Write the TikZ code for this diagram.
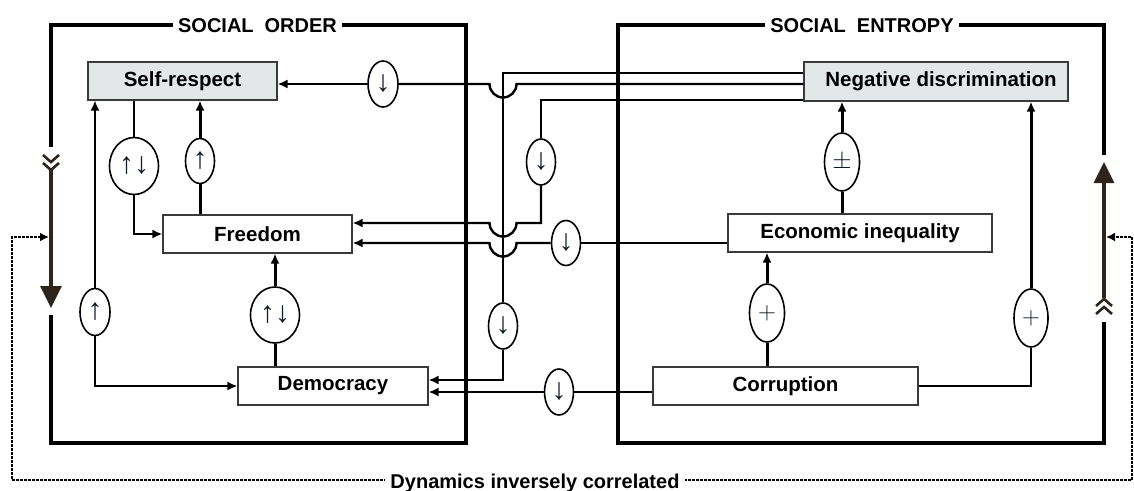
\documentclass[tikz,border=0pt]{standalone}
\usepackage{fontspec}
\setmainfont{Liberation Sans}
\usetikzlibrary{arrows.meta,shapes.geometric,calc}
\definecolor{boxgray}{HTML}{E4E7E8}
\definecolor{boxline}{HTML}{3A3A3A}
\definecolor{brownarr}{HTML}{2E241C}
\definecolor{symc}{HTML}{101828}
\begin{document}
\begin{tikzpicture}[x=1pt,y=-1pt,
  box/.style={draw=boxline,line width=1.1pt,minimum height=38pt,inner sep=0pt,font=\fontsize{20.5}{24}\selectfont\bfseries},
  gbox/.style={box,fill=boxgray},
  ell/.style={ellipse,draw=black,line width=1.6pt,fill=white,inner sep=0pt,text=symc,font=\fontsize{30}{30}\selectfont},
  mell/.style={ell,font=\fontsize{23}{24}\selectfont},
  thk/.style={line width=3pt},
  med/.style={line width=2.4pt},
  thn/.style={line width=1.6pt},
  tip/.style={-{Latex[length=10pt,width=9pt]}},
  frame/.style={line width=3.4pt},
  brownline/.style={line width=3.2pt,draw=brownarr,color=brownarr},
  chev/.style={line width=2.6pt,draw=brownarr},
  dotline/.style={line width=2.4pt,dash pattern=on 2.6pt off 1.4pt},
  title/.style={fill=white,inner sep=5pt,anchor=base,font=\fontsize{20}{24}\selectfont\bfseries}
]
\useasboundingbox (0,0) rectangle (1134,490);

% frames
\draw[frame] (51,147) -- (51,25) -- (466,25) -- (466,443) -- (51,443) -- (51,315);
\draw[frame] (1104,155) -- (1104,25) -- (618,25) -- (618,443) -- (1104,443) -- (1104,322);

% brown direction arrows
\draw[brownline,-{Triangle[length=22pt,width=21pt]}] (51,170) -- (51,308);
\draw[chev] (43,155) -- (51,162) -- (59,155);
\draw[chev] (43,163) -- (51,170) -- (59,163);
\draw[brownline,-{Triangle[length=21pt,width=20pt]}] (1104,298) -- (1104,162);
\draw[chev] (1096,306) -- (1104,299) -- (1112,306);
\draw[chev] (1096,314) -- (1104,307) -- (1112,314);

% dotted correlation line
\coordinate (inL) at (49,237);
\coordinate (inR) at (1106,237);
\draw[dotline,{Latex[length=9pt,width=9pt]}-{Latex[length=9pt,width=9pt]}] (inL) -- (12,237) -- (12,480) -- (1132,480) -- (1132,237) -- (inR);
\node[title] (dyn) at (535,488) {Dynamics inversely correlated};

% titles
\node[title] (tso) at (257.5,32.5) {SOCIAL\hspace{0.55em}ORDER};
\node[title] (tse) at (862,32.5) {SOCIAL\hspace{0.55em}ENTROPY};

% boxes
\node[gbox,minimum width=189pt] (sr) at (182.5,81) {Self-respect};
\node[box,minimum width=189pt] (fr) at (257.5,234) {Freedom};
\node[box,minimum width=190pt] (de) at (333,386) {Democracy};
\node[gbox,minimum width=264pt,minimum height=39pt] (nd) at (936,81.5) {\hspace{10pt}Negative discrimination};
\node[box,minimum width=264pt] (ei) at (860,233) {Economic inequality};
\node[box,minimum width=265pt] (co) at (785.5,386) {Corruption};

% ellipses
\node[ell,minimum width=30pt,minimum height=46pt] (e1) at (383,84) {↓};
\node[ell,minimum width=49pt,minimum height=57pt] (e2) at (134,166) {↑↓};
\node[ell,minimum width=29pt,minimum height=45pt] (e3) at (200,161) {↑};
\node[ell,minimum width=29pt,minimum height=46pt] (e4) at (541,162) {↓};
\node[ell,minimum width=29pt,minimum height=45pt] (e5) at (566,243) {↓};
\node[ell,minimum width=29pt,minimum height=46pt] (e6) at (503,326) {↓};
\node[ell,minimum width=29pt,minimum height=46pt] (e7) at (559,392) {↓};
\node[ell,minimum width=30pt,minimum height=47pt] (e8) at (95,312) {↑};
\node[ell,minimum width=49pt,minimum height=56pt] (e9) at (275,315) {↑↓};
\node[mell,minimum width=35pt,minimum height=58pt] (e10) at (842,162) {$\pm$};
\node[mell,minimum width=35pt,minimum height=58pt] (e11) at (767,313) {$+$};
\node[mell,minimum width=34pt,minimum height=58pt] (e12) at (1031,318) {$+$};

% connection points
\coordinate (ndA) at ([yshift=8.5pt]nd.west);
\coordinate (ndB) at ([yshift=-2.5pt]nd.west);
\coordinate (ndC) at ([yshift=-18.5pt]nd.west);
\coordinate (frA) at ([yshift=11pt]fr.east);
\coordinate (frB) at ([yshift=-9pt]fr.east);
\coordinate (eiA) at ([yshift=-10pt]ei.west);
\coordinate (deA) at ([yshift=6pt]de.east);
\coordinate (deB) at ([yshift=-6pt]de.east);
\coordinate (coA) at ([yshift=-6pt]co.west);

% social order internal links
\draw[thn] (sr.south -| e2) -- (e2.north);
\draw[med,tip] (e2.south) |- (fr.west);
\draw[thk] (fr.north -| e3) -- (e3.south);
\draw[thk,tip] (e3.north) -- (e3.north |- sr.south);
\draw[thn,tip] (e8.north) -- (e8.north |- sr.south);
\draw[med,tip] (e8.south) |- (de.west);
\draw[thk] (de.north -| e9) -- (e9.south);
\draw[thk,tip] (e9.north) -- (e9.north |- fr.south);

% social entropy internal links
\draw[thk] (ei.north -| e10) -- (e10.south);
\draw[thk,tip] (e10.north) -- (e10.north |- nd.south);
\draw[thk] (co.north -| e11) -- (e11.south);
\draw[thk,tip] (e11.north) -- (e11.north |- ei.south);
\draw[thn] (co.east) -| (e12.south);
\draw[thk,tip] (e12.north) -- (e12.north |- nd.south);

% cross links
\draw[thn] (ndA) -| (e6.north);
\draw[med,tip] (e6.south) |- (deA);
\draw[med] (ndB) -- ($(e6.north |- ndB)+(13.5,0)$) arc[start angle=0,end angle=180,radius=13.5] -- (e1.east);
\draw[med,tip] (e1.west) -- (e1.west -| sr.east);
\draw[thn] (ndC) -| (e4.north);
\draw[med,tip] (e4.south) |- ($(e6.north |- frA)+(13.5,0)$) arc[start angle=0,end angle=180,radius=13.5] -- (frA);
\draw[thn] (eiA) -- (e5.east);
\draw[med,tip] (e5.west) -- ($(e6.north |- frB)+(13.5,0)$) arc[start angle=0,end angle=180,radius=13.5] -- (frB);
\draw[med] (coA) -- (e7.east);
\draw[med,tip] (e7.west) -- (deB);
\end{tikzpicture}
\end{document}
